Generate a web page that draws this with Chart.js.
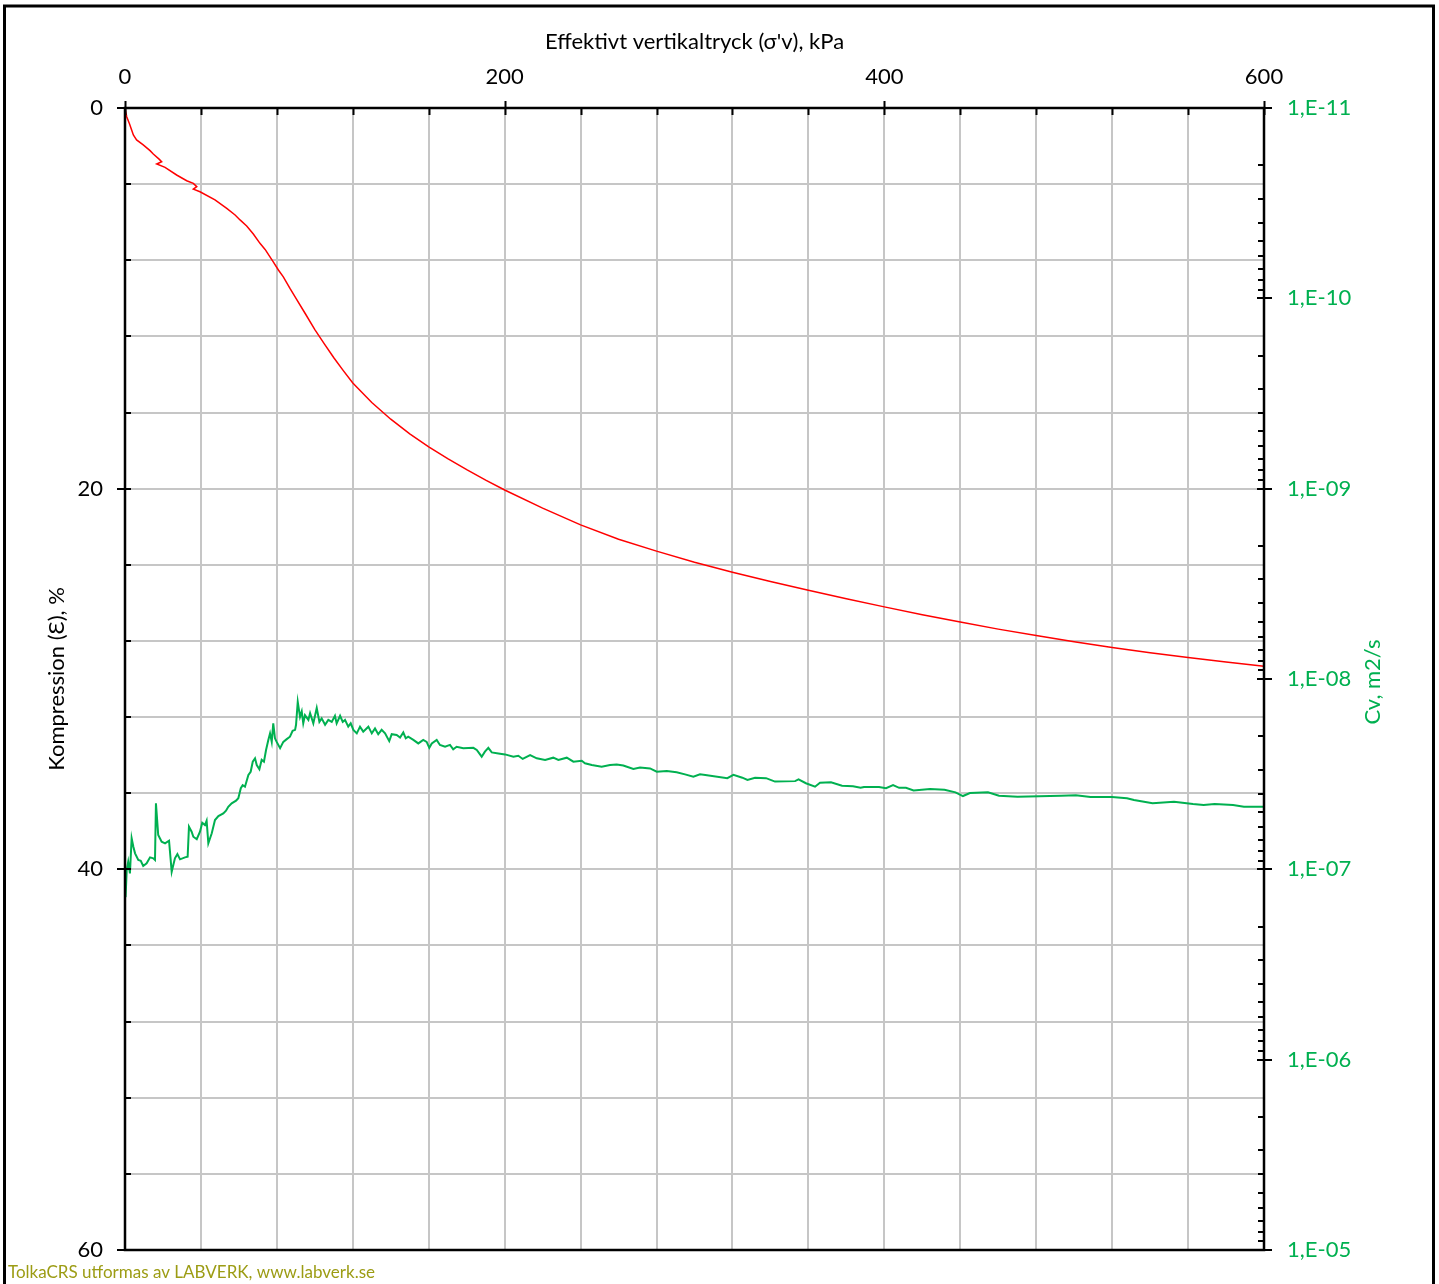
<!DOCTYPE html>
<html>
<head>
<meta charset="utf-8">
<title>TolkaCRS</title>
<script src="https://cdn.jsdelivr.net/npm/chart.js@4.4.1/dist/chart.umd.min.js"></script>
<style>
  html, body { margin: 0; padding: 0; background: #fff; }
  canvas { display: block; }
</style>
</head>
<body>
<canvas id="crs" width="1439" height="1284"></canvas>
<script>
// Compression (%) against effective vertical stress (kPa)
const pressureStrain = [0, 0.9, 2.3, 3.5, 4.4, 6.1, 9.6, 13.2, 14.9, 18.1, 19.3, 16.7, 21.1, 27.2, 32.5, 36.0, 37.8, 36.0, 39.5, 47.4,
  53.6, 58.0, 60.6, 64.1, 67.6, 71.1, 73.8, 78.1, 80.8, 83.4, 86.9, 90, 95, 100, 105, 110, 115, 120, 130, 140,
  150, 160, 170, 180, 190, 200, 220, 240, 260, 280, 300, 320, 340, 360, 380, 400, 420, 440, 460, 480,
  500, 520, 540, 560, 580, 600];
const compression = [0.02, 0.46, 0.81, 1.16, 1.42, 1.68, 1.94, 2.24, 2.42, 2.70, 2.82, 2.94, 3.12, 3.52, 3.82, 3.96, 4.13, 4.26, 4.40, 4.83,
  5.27, 5.62, 5.88, 6.20, 6.62, 7.11, 7.43, 8.08, 8.51, 8.87, 9.48, 9.99, 10.81, 11.64, 12.39, 13.12, 13.80, 14.45, 15.47, 16.35,
  17.12, 17.80, 18.42, 19.00, 19.55, 20.07, 21.02, 21.90, 22.66, 23.28, 23.87, 24.39, 24.88, 25.34, 25.78, 26.21, 26.62, 27.01, 27.38, 27.72,
  28.04, 28.34, 28.62, 28.87, 29.11, 29.33];

// Coefficient of consolidation Cv (m2/s) against effective vertical stress (kPa)
const pressureCv = [0.3, 0.9, 1.7, 2.6, 3.5, 4.4, 5.3, 7.0, 8.3, 9.6, 11.4, 13.2, 14.9, 15.8, 16.3, 17.5, 19.3, 21.1, 23.2, 24.6,
  26.3, 27.6, 29.0, 31.6, 33.0, 33.7, 35.1, 36.0, 37.8, 39.5, 40.7, 42.1, 43.0, 43.9, 45.7, 47.4, 49.2, 51.8, 53.2, 54.4,
  56.2, 58.5, 59.7, 61.0, 62.0, 63.2, 65.0, 66.2, 67.3, 68.5, 69.4, 70.8, 72.0, 73.2, 74.3, 75.5, 76.4, 77.3, 78.1, 79.0,
  79.9, 81.7, 83.4, 85.2, 86.9, 88.3, 89.6, 90.1, 91.0, 92.2,
  93.1, 93.9, 94.8, 96.6, 97.5, 99.2, 101.0, 102.4, 103.6, 105.4, 107.1, 108.9, 110.6, 111.5, 113.3, 114.7, 115.9, 117.6, 118.9, 120.3,
  122.1, 123.8, 125.5, 128.2, 130.0, 131.7, 133.4, 135.2, 137.0, 139.2, 140.5, 143.1, 144.9, 146.6, 147.9, 149.2, 151.9, 154.5, 157.1, 158.9,
  160.3, 161.6, 164.2, 165.9, 168.6, 171.2, 172.9, 174.7, 178.2, 183.5, 185.3, 187.9, 189.6, 191.4, 193.2, 196.7, 200.2, 204.6, 207.2, 209.5,
  213.4, 216.9, 221.3, 225.6, 228.3, 232.7, 236.2, 240.6, 242.3, 245.9, 251.1, 255.5, 259.0, 262.5, 267.8, 271.3, 276.6, 280.1, 285.4, 290.6,
  295.0, 299.4, 302.9,
  305.7, 317.3, 320.5, 325.2, 327.9, 331.9, 337.7, 342.4, 353.0, 354.8, 358.7, 363.5, 366.1, 371.9, 377.7, 383.5, 387.5, 389.3, 397.2, 400.9,
  404.6, 407.8, 411.4, 415.4, 424.1, 431.7, 437.5, 441.4, 445.1, 454.6, 460.4, 470.2, 481.5, 493.1, 500.9, 508.6, 519.9, 527.8, 531.5, 541.3,
  552.6, 562.6, 568.2, 574.0, 583.7, 589.4, 600];
const cv = [14.0e-8, 10.1e-8, 9.12e-8, 10.5e-8, 6.87e-8, 7.61e-8, 8.24e-8, 8.93e-8, 9.01e-8, 9.61e-8,
  9.30e-8, 8.65e-8, 8.75e-8, 8.93e-8, 4.50e-8, 6.60e-8, 7.16e-8, 7.30e-8, 7.07e-8, 10.3e-8,
  8.75e-8, 8.31e-8, 8.86e-8, 8.65e-8, 8.58e-8, 5.97e-8, 6.34e-8, 6.74e-8, 6.95e-8, 6.34e-8,
  5.69e-8, 5.85e-8, 5.55e-8, 7.30e-8, 6.47e-8, 5.51e-8, 5.25e-8, 5.08e-8, 4.92e-8, 4.69e-8,
  4.50e-8, 4.36e-8, 4.23e-8, 3.75e-8, 3.61e-8, 3.68e-8, 3.19e-8, 3.07e-8, 2.72e-8, 2.61e-8,
  2.83e-8, 2.98e-8, 2.66e-8, 2.72e-8, 2.36e-8, 2.09e-8, 1.93e-8, 2.14e-8, 1.71e-8, 2.05e-8,
  2.14e-8, 2.31e-8, 2.14e-8, 2.07e-8, 2.01e-8, 1.87e-8, 1.85e-8, 1.74e-8, 1.32e-8, 1.58e-8,
  1.48e-8, 1.71e-8, 1.55e-8, 1.64e-8, 1.51e-8, 1.71e-8, 1.42e-8, 1.68e-8, 1.61e-8, 1.74e-8,
  1.64e-8, 1.68e-8, 1.56e-8, 1.71e-8, 1.56e-8, 1.68e-8, 1.64e-8, 1.78e-8, 1.71e-8, 1.85e-8,
  1.93e-8, 1.78e-8, 1.89e-8, 1.78e-8, 1.93e-8, 1.82e-8, 1.95e-8, 1.85e-8, 1.93e-8, 2.12e-8,
  1.95e-8, 1.97e-8, 2.03e-8, 1.91e-8, 2.05e-8, 2.01e-8, 2.09e-8, 2.18e-8, 2.09e-8, 2.14e-8,
  2.30e-8, 2.18e-8, 2.09e-8, 2.22e-8, 2.27e-8, 2.22e-8, 2.34e-8, 2.27e-8, 2.31e-8, 2.30e-8,
  2.36e-8, 2.56e-8, 2.41e-8, 2.30e-8, 2.43e-8, 2.46e-8, 2.49e-8, 2.56e-8, 2.53e-8, 2.63e-8,
  2.51e-8, 2.61e-8, 2.66e-8, 2.59e-8, 2.66e-8, 2.59e-8, 2.72e-8, 2.69e-8, 2.77e-8, 2.83e-8,
  2.89e-8, 2.83e-8, 2.81e-8, 2.85e-8, 2.97e-8, 2.92e-8, 2.95e-8, 3.07e-8, 3.04e-8, 3.09e-8,
  3.17e-8, 3.26e-8, 3.17e-8,
  3.19e-8, 3.32e-8, 3.19e-8, 3.30e-8, 3.39e-8, 3.30e-8, 3.32e-8, 3.46e-8, 3.44e-8, 3.37e-8,
  3.53e-8, 3.68e-8, 3.51e-8, 3.49e-8, 3.64e-8, 3.66e-8, 3.73e-8, 3.69e-8, 3.69e-8, 3.75e-8,
  3.61e-8, 3.73e-8, 3.73e-8, 3.85e-8, 3.78e-8, 3.82e-8, 3.94e-8, 4.12e-8, 3.97e-8, 3.94e-8,
  4.10e-8, 4.15e-8, 4.13e-8, 4.10e-8, 4.08e-8, 4.17e-8, 4.17e-8, 4.23e-8, 4.32e-8, 4.50e-8,
  4.41e-8, 4.54e-8, 4.59e-8, 4.54e-8, 4.59e-8, 4.69e-8, 4.69e-8];

// Axis labels
const pressureLabels = [0, 200, 400, 600];
const compressionLabels = [0, 20, 40, 60];
const cvDecades = [-11, -10, -9, -8, -7, -6, -5];

const FONT = 'Lato';
const GREEN = '#00b050';
const GRID = '#c6c6c6';

function cvLabel(v) {
  const e = Math.round(Math.log10(v));
  if (!cvDecades.includes(e) || Math.abs(v / Math.pow(10, e) - 1) > 1e-6) return '';
  return '1,E-' + String(-e).padStart(2, '0');
}

// Vertical axes: keep the plot area fixed, labels may overhang
function fixVertical(width) {
  return s => { s.width = width; s.paddingTop = 0; s.paddingBottom = 0; };
}

// Frame, tick marks, right-hand title and footer
const decorations = {
  id: 'decorations',
  afterDraw(chart) {
    const { ctx, chartArea: a, scales } = chart;
    ctx.save();
    ctx.strokeStyle = '#000';

    // outer border
    ctx.lineWidth = 3;
    ctx.strokeRect(4.5, 6, 1429, 1300);

    // tick marks
    ctx.lineWidth = 2;
    ctx.beginPath();
    scales.x.ticks.forEach(t => {
      const px = Math.round(scales.x.getPixelForValue(t.value)) + 0.5;
      const major = pressureLabels.includes(t.value);
      ctx.moveTo(px, major ? a.top - 7 : a.top);
      ctx.lineTo(px, a.top + 7);
    });
    scales.y.ticks.forEach(t => {
      const py = Math.round(scales.y.getPixelForValue(t.value));
      const major = compressionLabels.includes(t.value);
      ctx.moveTo(major ? a.left - 8 : a.left, py);
      ctx.lineTo(a.left + 6, py);
    });
    cvDecades.forEach((e, i) => {
      const py = Math.round(scales.y2.getPixelForValue(Math.pow(10, e)));
      ctx.moveTo(a.right - 7, py);
      ctx.lineTo(a.right + 8, py);
      if (i === cvDecades.length - 1) return;
      for (let m = 2; m <= 9; m++) {
        const q = Math.round(scales.y2.getPixelForValue(m * Math.pow(10, e)));
        ctx.moveTo(a.right - 6, q);
        ctx.lineTo(a.right, q);
      }
    });
    ctx.stroke();

    // plot frame
    ctx.lineWidth = 2.5;
    ctx.strokeRect(a.left, a.top, a.right - a.left, a.bottom - a.top);

    // right axis title, reading upwards
    ctx.fillStyle = GREEN;
    ctx.font = '22px ' + FONT;
    ctx.textAlign = 'center';
    ctx.textBaseline = 'middle';
    ctx.translate(1373, 682);
    ctx.rotate(-Math.PI / 2);
    ctx.fillText('Cv, m2/s', 0, 0);
    ctx.setTransform(1, 0, 0, 1, 0, 0);

    // footer
    ctx.fillStyle = '#9c9c14';
    ctx.font = '17px ' + FONT;
    ctx.textAlign = 'left';
    ctx.textBaseline = 'middle';
    ctx.fillText('TolkaCRS utformas av LABVERK, www.labverk.se', 8, 1273);
    ctx.restore();
  }
};

Chart.defaults.font.family = FONT;
Chart.defaults.font.size = 22;
Chart.defaults.color = '#000';

new Chart(document.getElementById('crs'), {
  type: 'line',
  data: {
    datasets: [
      {
        label: 'Kompression',
        data: pressureStrain.map((p, i) => ({ x: p, y: compression[i] })),
        xAxisID: 'x', yAxisID: 'y',
        borderColor: '#ff0000', borderWidth: 1.5,
        pointRadius: 0, fill: false, tension: 0
      },
      {
        label: 'Cv',
        data: pressureCv.map((p, i) => ({ x: p, y: cv[i] })),
        xAxisID: 'x', yAxisID: 'y2',
        borderColor: GREEN, borderWidth: 2,
        pointRadius: 0, fill: false, tension: 0
      }
    ]
  },
  options: {
    responsive: false,
    animation: false,
    devicePixelRatio: 1,
    events: [],
    layout: { padding: { left: 0, top: 0, right: 0, bottom: 34 } },
    plugins: { legend: { display: false }, tooltip: { enabled: false } },
    scales: {
      x: {
        type: 'linear', position: 'top', min: 0, max: 600,
        afterFit(s) { s.height = 108; },
        grid: { color: GRID, lineWidth: 2, drawTicks: false },
        border: { display: false },
        ticks: {
          stepSize: 40, autoSkip: false, maxRotation: 0, padding: 18,
          callback: v => pressureLabels.includes(v) ? String(v) : ''
        },
        title: {
          display: true, text: "Effektivt vertikaltryck (σ'v), kPa",
          padding: { top: 29, bottom: 0 }
        }
      },
      y: {
        type: 'linear', position: 'left', reverse: true, min: 0, max: 60,
        afterFit: fixVertical(125),
        grid: { color: GRID, lineWidth: 2, drawTicks: false },
        border: { display: false },
        ticks: {
          stepSize: 4, autoSkip: false, padding: 22,
          callback: v => compressionLabels.includes(v) ? String(v) : ''
        },
        title: {
          display: true, text: 'Kompression (Ɛ), %',
          padding: { top: 44, bottom: 0 }
        }
      },
      y2: {
        type: 'logarithmic', position: 'right', reverse: true, min: 1e-11, max: 1e-5,
        afterFit: fixVertical(175),
        grid: { display: false, drawTicks: false },
        border: { display: false },
        ticks: { autoSkip: false, padding: 23, color: GREEN, callback: v => cvLabel(v) }
      }
    }
  },
  plugins: [decorations]
});
</script>
</body>
</html>
